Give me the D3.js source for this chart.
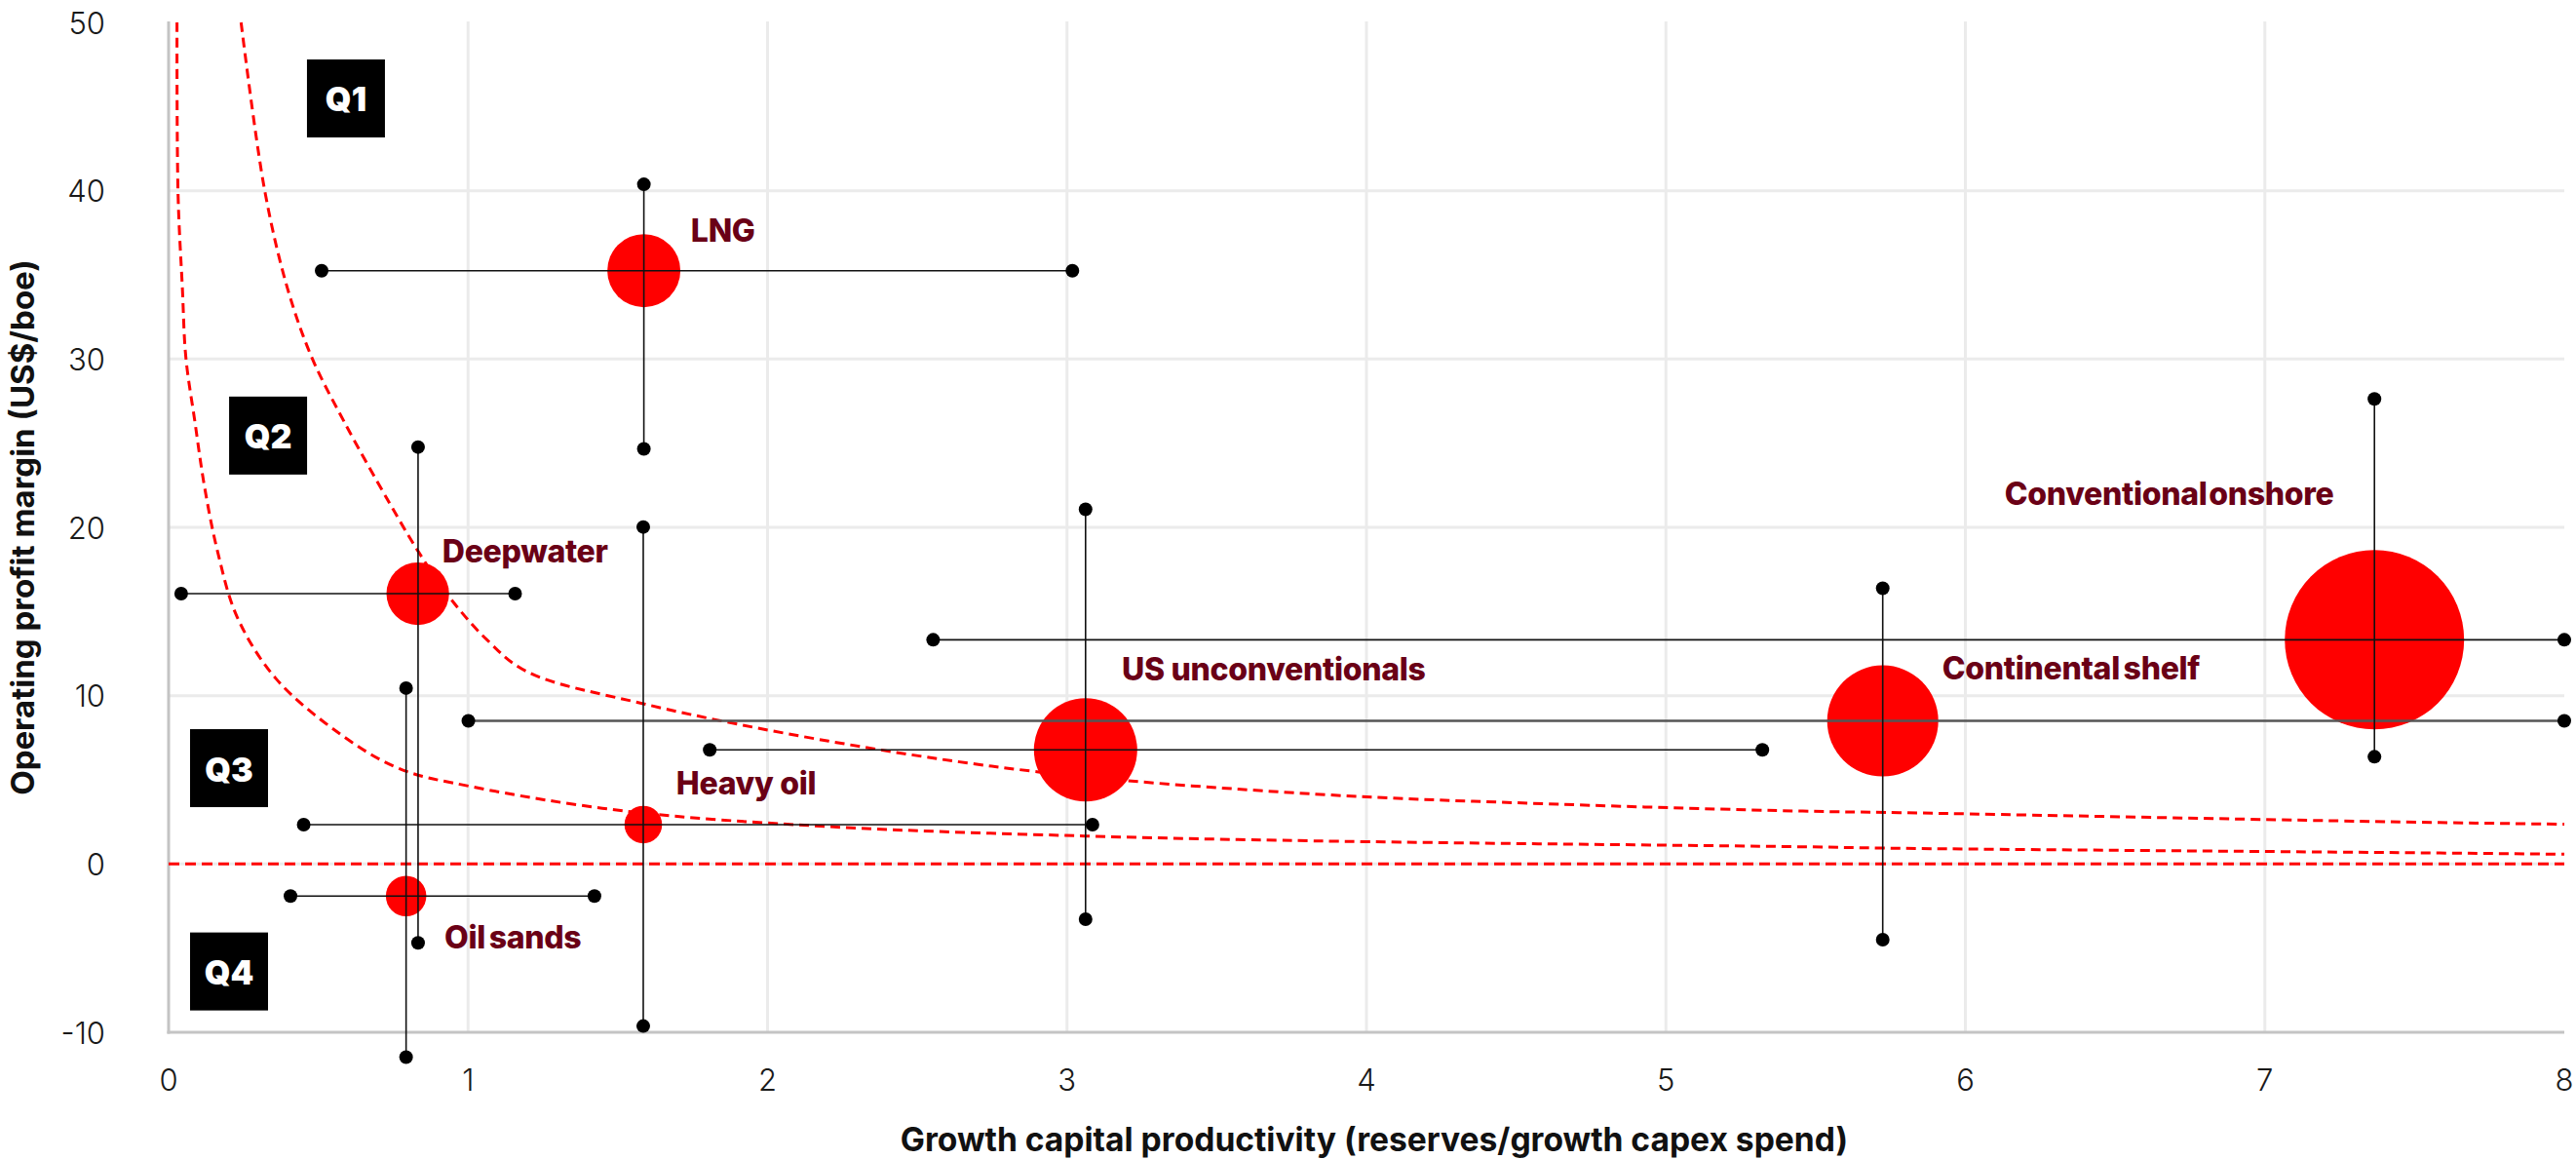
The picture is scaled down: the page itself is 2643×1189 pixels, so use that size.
<!DOCTYPE html>
<html>
<head>
<meta charset="utf-8">
<script src="https://cdn.jsdelivr.net/npm/d3@7"></script>
<style>
  html, body { margin: 0; padding: 0; background: #ffffff; }
  svg { display: block; font-family: Inter, "Noto Sans", "Liberation Sans", sans-serif; }
</style>
</head>
<body>
<svg id="chart" width="2643" height="1189"></svg>
<script>
// ---------------- data ----------------
const categories = ["LNG", "Deepwater", "Oil sands", "Heavy oil", "US unconventionals", "Continental shelf", "Conventional onshore"];
const productivity     = [1.587, 0.832, 0.793, 1.585, 3.062, 5.724, 7.366];
const profitMargin     = [35.25, 16.06, -1.91, 2.34, 6.78, 8.50, 13.32];
const productivityLow  = [0.511, 0.042, 0.407, 0.451, 1.807, 1.001, 2.553];
const productivityHigh = [3.018, 1.157, 1.422, 3.085, 5.322, 8.000, 8.000];
const marginLow        = [24.66, -4.69, -11.48, -9.63, -3.28, -4.50, 6.37];
const marginHigh       = [40.38, 24.77, 10.45, 20.02, 21.07, 16.38, 27.63];
const bubbleSize       = [16.6, 12.2, 5.1, 4.4, 33.2, 38.4, 100];
const verticalBarX     = [1.587, 0.833, 0.793, 1.585, 3.062, 5.724, 7.366];

// label anchors (data units)
const labelX = [1.744, 0.914, 0.921, 1.695, 3.183, 5.923, 6.131];
const labelY = [36.98, 17.93, -5.00, 4.15, 10.93, 10.98, 21.33];

// threshold curves
const lowerCurveX = [0.028, 0.0316, 0.046, 0.0576, 0.088, 0.120, 0.164, 0.229, 0.359, 0.576, 0.771, 1.01, 1.52, 2.204, 3.06, 3.83, 5.457, 5.78, 7.41, 8.0];
const lowerCurveY = [50, 39.75, 34.2, 30.1, 26.25, 22.4, 18.53, 14.67, 11.0, 7.68, 5.66, 4.6, 3.15, 2.22, 1.66, 1.37, 1.02, 0.93, 0.68, 0.58];
const upperCurveX = [0.242, 0.321, 0.397, 0.478, 0.587, 0.739, 0.836, 0.94, 1.064, 1.194, 1.585, 2.204, 2.905, 3.83, 4.64, 5.457, 5.78, 7.41, 8.0];
const upperCurveY = [50, 40, 34.2, 30.1, 26.25, 21.4, 18.5, 15.8, 13.3, 11.45, 9.52, 7.3, 5.47, 4.15, 3.55, 3.14, 3.05, 2.51, 2.36];
const breakEvenMargin = 0;

// quadrant labels (top-left anchors in data units)
const quadrantNames = ["Q1", "Q2", "Q3", "Q4"];
const quadrantX = [0.462, 0.202, 0.0716, 0.0716];
const quadrantY = [47.8, 27.77, 8.01, -4.07];

// axes
const xTicks = [0, 1, 2, 3, 4, 5, 6, 7, 8];
const yTicks = [-10, 0, 10, 20, 30, 40, 50];
const xTitle = "Growth capital productivity (reserves/growth capex spend)";
const yTitle = "Operating profit margin (US$/boe)";

// ---------------- layout ----------------
const W = 2643, H = 1189;
const m = { left: 173, right: 12, top: 23, bottom: 130 };
const svg = d3.select("#chart");

const x = d3.scaleLinear().domain([0, 8]).range([m.left, W - m.right]);
const y = d3.scaleLinear().domain([-10, 50]).range([H - m.bottom, m.top]);
const r = d3.scaleSqrt().domain([0, 100]).range([0, 92]);

const gridColor = "#ebebeb";
const axisColor = "#c4c4c4";
const red = "#ff0000";
const labelColor = "#6a0016";

// gridlines
const grid = svg.append("g");
grid.selectAll("line.v").data(xTicks.filter(t => t > 0 && t < 8)).join("line")
  .attr("x1", d => x(d)).attr("x2", d => x(d))
  .attr("y1", y(50) - 1).attr("y2", y(-10))
  .attr("stroke", gridColor).attr("stroke-width", 3);
grid.selectAll("line.h").data(yTicks.filter(t => t > -10 && t < 50)).join("line")
  .attr("x1", x(0)).attr("x2", x(8))
  .attr("y1", d => y(d)).attr("y2", d => y(d))
  .attr("stroke", gridColor).attr("stroke-width", 3);

// axis lines
svg.append("line").attr("x1", x(0)).attr("x2", x(0)).attr("y1", y(50) - 1).attr("y2", y(-10) + 1.5)
  .attr("stroke", axisColor).attr("stroke-width", 3);
svg.append("line").attr("x1", x(0) - 1.5).attr("x2", x(8)).attr("y1", y(-10)).attr("y2", y(-10))
  .attr("stroke", axisColor).attr("stroke-width", 3);

// tick labels
svg.append("g").selectAll("text").data(yTicks).join("text")
  .attr("x", x(0) - 65).attr("y", d => y(d))
  .attr("text-anchor", "end").attr("dominant-baseline", "central")
  .attr("font-size", 31).attr("font-weight", 300).attr("fill", "#1a1a1a")
  .text(d => d);
svg.append("g").selectAll("text").data(xTicks).join("text")
  .attr("x", d => x(d)).attr("y", y(-10) + 60)
  .attr("text-anchor", "middle")
  .attr("font-size", 31).attr("font-weight", 300).attr("fill", "#1a1a1a")
  .text(d => d);

// axis titles
svg.append("text")
  .attr("x", (x(0) + x(8)) / 2 + 8).attr("y", 1181)
  .attr("text-anchor", "middle").attr("font-size", 33.6).attr("font-weight", 700).attr("fill", "#111")
  .text(xTitle);
svg.append("text")
  .attr("transform", `translate(35,${(y(50) + y(-10)) / 2}) rotate(-90)`)
  .attr("text-anchor", "middle").attr("font-size", 33).attr("font-weight", 700).attr("fill", "#111")
  .text(yTitle);

// threshold curves
const line = d3.line().x(d => x(d[0])).y(d => y(d[1])).curve(d3.curveCatmullRom.alpha(0.5));
const curves = [
  d3.zip(lowerCurveX, lowerCurveY),
  d3.zip(upperCurveX, upperCurveY)
];
svg.append("g").selectAll("path").data(curves).join("path")
  .attr("d", line).attr("fill", "none")
  .attr("stroke", red).attr("stroke-width", 3).attr("stroke-dasharray", "10,6");
svg.append("line")
  .attr("x1", x(0)).attr("x2", x(8)).attr("y1", y(breakEvenMargin)).attr("y2", y(breakEvenMargin))
  .attr("stroke", red).attr("stroke-width", 3).attr("stroke-dasharray", "11,6");

// data table
const data = categories.map((c, i) => ({
  name: c, x: productivity[i], y: profitMargin[i],
  xl: productivityLow[i], xh: productivityHigh[i],
  yl: marginLow[i], yh: marginHigh[i], vx: verticalBarX[i],
  size: bubbleSize[i], lx: labelX[i], ly: labelY[i]
}));

// bubbles
svg.append("g").selectAll("circle").data(data).join("circle")
  .attr("cx", d => x(d.x)).attr("cy", d => y(d.y)).attr("r", d => r(d.size))
  .attr("fill", red);

// range bars
const bars = svg.append("g");
bars.selectAll("line.hb").data(data).join("line")
  .attr("x1", d => x(d.xl)).attr("x2", d => x(d.xh))
  .attr("y1", d => y(d.y)).attr("y2", d => y(d.y))
  .attr("stroke", d => d.name === "Continental shelf" ? "#555" : "#111")
  .attr("stroke-width", d => d.name === "Continental shelf" ? 2.5 : 1.6);
bars.selectAll("line.vb").data(data).join("line")
  .attr("x1", d => x(d.vx)).attr("x2", d => x(d.vx))
  .attr("y1", d => y(d.yl)).attr("y2", d => y(d.yh))
  .attr("stroke", "#111").attr("stroke-width", 1.6);
const ends = [];
data.forEach(d => {
  ends.push([d.xl, d.y], [d.xh, d.y], [d.vx, d.yl], [d.vx, d.yh]);
});
bars.selectAll("circle").data(ends).join("circle")
  .attr("cx", d => x(d[0])).attr("cy", d => y(d[1])).attr("r", 7).attr("fill", "#000");

// labels
const tight = new Set(["Oil sands", "Continental shelf", "Conventional onshore"]);
svg.append("g").selectAll("text").data(data).join("text")
  .attr("x", d => x(d.lx)).attr("y", d => y(d.ly))
  .attr("font-size", 32).attr("font-weight", 800).attr("fill", labelColor)
  .attr("letter-spacing", -0.3)
  .attr("word-spacing", d => d.name === "Conventional onshore" ? -5 : (tight.has(d.name) ? -3 : 0))
  .text(d => d.name);

// quadrant boxes
const q = svg.append("g").selectAll("g").data(quadrantNames.map((n, i) => ({ n, x: quadrantX[i], y: quadrantY[i] })))
  .join("g").attr("transform", d => `translate(${x(d.x)},${y(d.y)})`);
q.append("rect").attr("width", 80).attr("height", 80).attr("fill", "#000");
q.append("text").attr("x", 40).attr("y", 41).attr("text-anchor", "middle").attr("dominant-baseline", "central")
  .attr("font-size", 34).attr("font-weight", 900).attr("fill", "#fff").text(d => d.n);
</script>
</body>
</html>
